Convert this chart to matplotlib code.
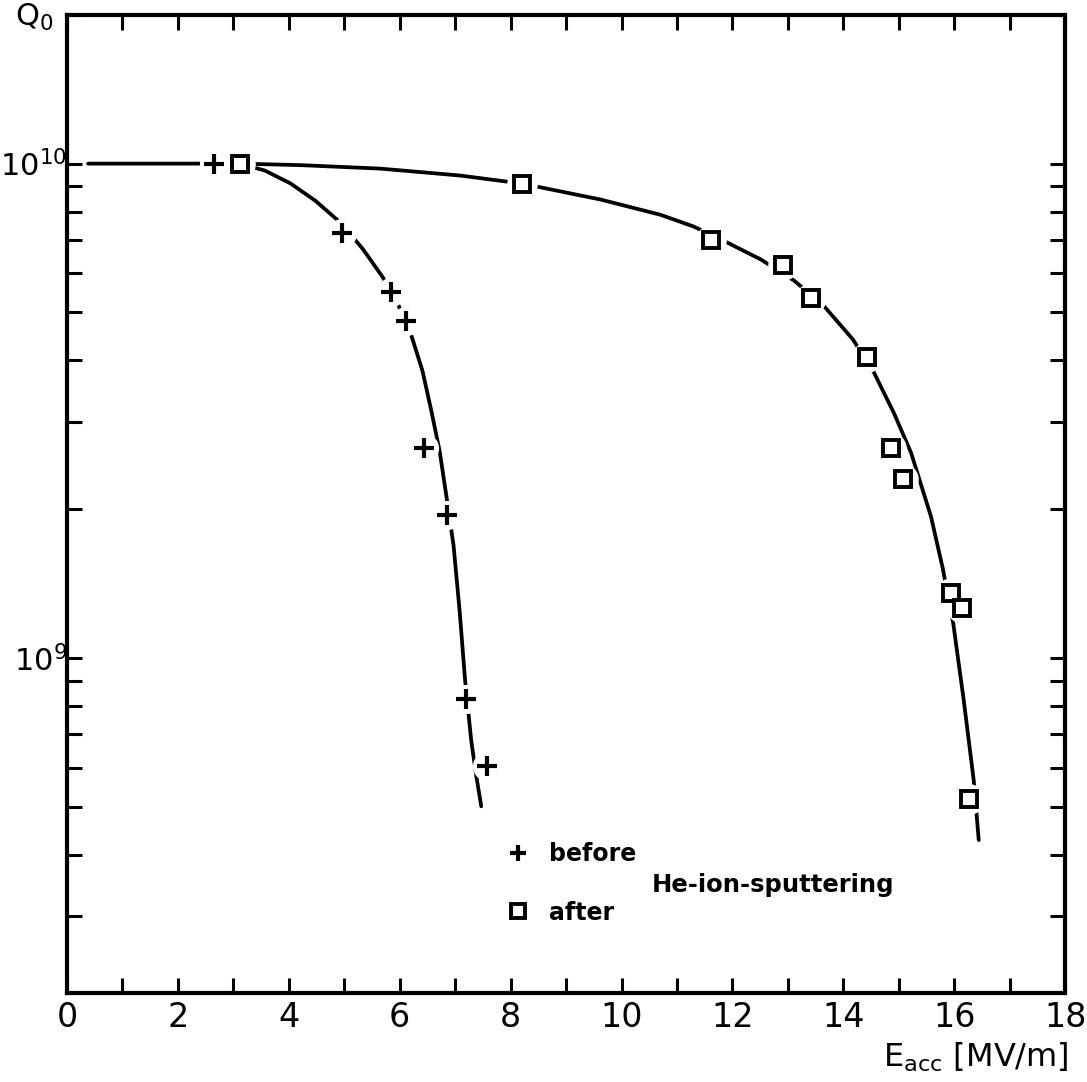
import matplotlib
matplotlib.use("Agg")
import matplotlib.pyplot as plt
from matplotlib import font_manager
from matplotlib.ticker import MultipleLocator, LogLocator, FixedLocator, NullFormatter, FixedFormatter
from matplotlib.lines import Line2D

# --- measured points ---
before_E = [2.65, 4.96, 5.85, 6.12, 6.44, 6.86, 7.20, 7.58]
before_Q = [1.0e10, 7.25e9, 5.51e9, 4.81e9, 2.66e9, 1.95e9, 8.26e8, 6.04e8]

after_E = [3.12, 8.21, 11.62, 12.91, 13.41, 14.42, 14.86, 15.07, 15.94, 16.14, 16.26]
after_Q = [1.0e10, 9.1e9, 7.02e9, 6.24e9, 5.35e9, 4.06e9, 2.66e9, 2.30e9, 1.35e9, 1.26e9, 5.19e8]

# --- hand-drawn guide curves ---
before_curve_E = [0.38, 2.65, 3.12, 3.57, 4.03, 4.48, 4.93, 5.33, 5.69, 5.98, 6.21, 6.41, 6.57,
                  6.72, 6.84, 6.97, 7.08, 7.18, 7.29, 7.38, 7.47]
before_curve_Q = [1e10, 1e10, 1e10, 9.68e9, 9.12e9, 8.41e9, 7.60e9, 6.73e9, 5.90e9, 5.16e9, 4.49e9,
                  3.81e9, 3.16e9, 2.62e9, 2.13e9, 1.69e9, 1.245e9, 8.97e8, 6.79e8, 5.77e8, 5.01e8]

after_curve_E = [3.12, 4.21, 5.65, 7.09, 8.21, 9.62, 10.70, 11.30, 11.91, 12.51, 13.11, 13.65, 14.17,
                 14.55, 14.91, 15.22, 15.58, 15.79, 15.98, 16.17, 16.35, 16.44]
after_curve_Q = [1e10, 9.93e9, 9.77e9, 9.46e9, 9.11e9, 8.46e9, 7.88e9, 7.46e9, 6.92e9, 6.40e9, 5.80e9,
                 5.15e9, 4.41e9, 3.78e9, 3.13e9, 2.60e9, 1.93e9, 1.52e9, 1.175e9, 8.20e8, 5.65e8, 4.28e8]

x_major = [0, 2, 4, 6, 8, 10, 12, 14, 16, 18]
x_labels = ["0", "2", "4", "6", "8", "10", "12", "14", "16", "18"]
y_major = [1e9, 1e10]
y_labels = [r"$10^9$", r"$10^{10}$"]

names = {f.name for f in font_manager.fontManager.ttflist}
if "Liberation Sans Narrow" in names:
    tick_family = "Liberation Sans Narrow"
    tick_size = 28
else:
    tick_family = "DejaVu Sans"
    tick_size = 24

plt.rcParams['font.family'] = [tick_family, 'DejaVu Sans']
plt.rcParams['mathtext.default'] = 'regular'

fig = plt.figure(figsize=(10.87, 10.82), dpi=100)
ax = fig.add_axes([0.0616, 0.0823, 0.9184, 0.9040])

lw = 2.7
ax.plot(before_curve_E, before_curve_Q, color='black', lw=lw, zorder=2, solid_capstyle='round')
ax.plot(after_curve_E, after_curve_Q, color='black', lw=lw, zorder=2, solid_capstyle='round')

# white halos to reproduce the gaps around marks
ax.plot(before_E, before_Q, ls='none', marker='o', ms=20, mfc='white', mec='white', zorder=3)
ax.plot(after_E, after_Q, ls='none', marker='o', ms=21, mfc='white', mec='white', zorder=3)

ax.plot(before_E, before_Q, ls='none', marker='+', ms=14, mew=3.0, color='black', zorder=4)
ax.plot(after_E, after_Q, ls='none', marker='s', ms=12, mew=2.8, mfc='white', mec='black', zorder=4)

ax.set_xlim(0, 18)
ax.set_yscale('log')
ax.set_ylim(2.1e8, 2.0e10)

ax.xaxis.set_major_locator(FixedLocator(x_major))
ax.xaxis.set_major_formatter(FixedFormatter(x_labels))
ax.xaxis.set_minor_locator(MultipleLocator(1))
ax.yaxis.set_major_locator(FixedLocator(y_major))
ax.yaxis.set_major_formatter(FixedFormatter(y_labels))
ax.yaxis.set_minor_locator(LogLocator(base=10, subs=[2, 3, 4, 5, 6, 7, 8, 9]))
ax.yaxis.set_minor_formatter(NullFormatter())

for a in ['top', 'bottom', 'left', 'right']:
    ax.spines[a].set_linewidth(3.0)

ax.tick_params(which='both', direction='in', top=True, right=True, length=11, width=2.2)
ax.tick_params(axis='x', which='major', labelsize=tick_size, pad=6)
ax.tick_params(axis='y', which='major', labelsize=tick_size - 2, pad=0)

ax.text(-0.052, 1.013, r"Q$_0$", transform=ax.transAxes, fontsize=tick_size - 2,
        ha='left', va='top')
ax.text(1.003, -0.066, r"E$_{acc}$ [MV/m]", transform=ax.transAxes, fontsize=tick_size - 1,
        ha='right', va='center')

handles = [Line2D([], [], ls='none', marker='+', ms=12, mew=3.0, color='black'),
           Line2D([], [], ls='none', marker='s', ms=10, mew=2.8, mfc='white', mec='black')]
ax.legend(handles, ["before", "after"], loc='upper left', bbox_to_anchor=(0.44, 0.154),
          frameon=False, prop={'family': 'DejaVu Sans', 'size': 17, 'weight': 'bold'},
          handlelength=1.0, handletextpad=0.8, labelspacing=1.45,
          borderpad=0, borderaxespad=0)
ax.text(0.586, 0.110, "He-ion-sputtering", transform=ax.transAxes, fontsize=17.5,
        family='DejaVu Sans', fontweight='bold', ha='left', va='center')

fig.savefig("out.png", dpi=100, facecolor='white')
